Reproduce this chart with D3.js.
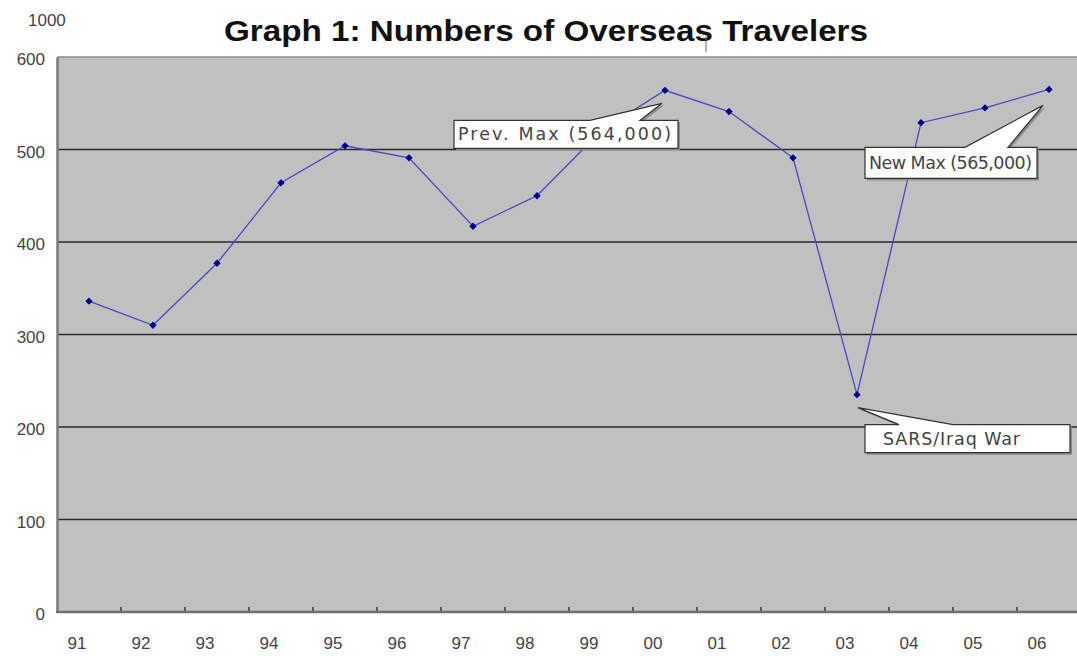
<!DOCTYPE html>
<html>
<head>
<meta charset="utf-8">
<script src="https://cdn.jsdelivr.net/npm/d3@7"></script>
<style>
  html, body { margin: 0; padding: 0; background: #fff; }
  svg { display: block; }
</style>
</head>
<body>
<script>
// ---- data ----
const years = ["91","92","93","94","95","96","97","98","99","00","01","02","03","04","05","06"];
const travelers = [336, 310, 377, 464, 504, 491, 417, 450, 520, 564, 541, 491, 235, 529, 545, 565];
const yTicks = [0, 100, 200, 300, 400, 500, 600];
const titleText = "Graph 1: Numbers of Overseas Travelers";
const strayLabel = "1000";
const calloutIndex = [9, 15, 12];
const calloutText = ["Prev. Max (564,000)", "New Max (565,000)", "SARS/Iraq War"];

// ---- layout (styles/positions kept separate from data) ----
const W = 1077, H = 656;
const plot = { left: 57, top: 57, bottom: 612, right: 1081 };
// callout layout: box offset from point, box size, wedge base (relative to box left), tip offset, text length
const calloutLayout = [
  { dx: -211, dy: 30, w: 224, h: 28, b0: 136, b1: 186, tx: -3, ty: 13, tl: 213 },
  { dx: -184, dy: 58, w: 172, h: 31, b0: 100, b1: 143, tx: -6, ty: 16, tl: 163 },
  { dx: 8,    dy: 30, w: 205, h: 28, b0: 34,  b1: 88,  tx: 1,  ty: 13, tl: 137, pad: 18 }
];

const svg = d3.select("body").append("svg").attr("width", W).attr("height", H);

const x = d3.scaleBand().domain(years).range([plot.left, plot.right]).paddingInner(0).paddingOuter(0);
const y = d3.scaleLinear().domain([0, 600]).range([plot.bottom, plot.top]);
const cx = d => x(d) + x.bandwidth() / 2;

// plot background
svg.append("rect")
  .attr("x", plot.left).attr("y", plot.top)
  .attr("width", W - plot.left).attr("height", plot.bottom - plot.top)
  .attr("fill", "#c0c0c0");

// gridlines
svg.append("g").selectAll("line")
  .data(yTicks.filter(t => t > 0 && t < 600))
  .join("line")
  .attr("x1", plot.left).attr("x2", W)
  .attr("y1", d => y(d)).attr("y2", d => y(d))
  .attr("stroke", "#2a2a2a").attr("stroke-width", 1.4);

// top border
svg.append("line")
  .attr("x1", plot.left).attr("x2", W)
  .attr("y1", y(600)).attr("y2", y(600))
  .attr("stroke", "#8a8a8a").attr("stroke-width", 1.5);

// y axis
const yAxis = d3.axisLeft(y).tickValues(yTicks).tickSize(0).tickPadding(12);
const gy = svg.append("g").attr("transform", `translate(${plot.left},0)`).call(yAxis);
gy.select(".domain").attr("stroke", "#7a7a7a").attr("stroke-width", 2.5);
gy.selectAll("text")
  .attr("font-family", "'Liberation Sans', Arial, sans-serif")
  .attr("font-size", 17).attr("fill", "#444").attr("dy", "0.45em");

// x axis (ticks between categories, inward)
const tickPos = years.slice(1).map(d => x(d));
svg.append("g").selectAll("line")
  .data(tickPos).join("line")
  .attr("x1", d => d).attr("x2", d => d)
  .attr("y1", plot.bottom - 5).attr("y2", plot.bottom)
  .attr("stroke", "#333").attr("stroke-width", 1.5);
svg.append("line")
  .attr("x1", plot.left - 1).attr("x2", W)
  .attr("y1", plot.bottom).attr("y2", plot.bottom)
  .attr("stroke", "#6e6e6e").attr("stroke-width", 2.5);

svg.append("g").selectAll("text")
  .data(years).join("text")
  .attr("x", d => cx(d) - 12)
  .attr("y", plot.bottom + 37)
  .attr("text-anchor", "middle")
  .attr("font-family", "'Liberation Sans', Arial, sans-serif")
  .attr("font-size", 17).attr("fill", "#444")
  .text(d => d);

// stray "1000" label
svg.append("text")
  .attr("x", 28).attr("y", 26)
  .attr("font-family", "'Liberation Sans', Arial, sans-serif")
  .attr("font-size", 17).attr("fill", "#444")
  .text(strayLabel);

// title
svg.append("text")
  .attr("x", 224).attr("y", 41)
  .attr("font-family", "'Liberation Sans', Arial, sans-serif")
  .attr("font-weight", "bold")
  .attr("font-size", 29).attr("fill", "#111")
  .attr("textLength", 644).attr("lengthAdjust", "spacingAndGlyphs")
  .text(titleText);
svg.append("line")
  .attr("x1", 706).attr("x2", 706).attr("y1", 36).attr("y2", 52)
  .attr("stroke", "#666").attr("stroke-width", 1);

// series line
const line = d3.line().x((d, i) => cx(years[i])).y(d => y(d));
svg.append("path")
  .datum(travelers)
  .attr("d", line)
  .attr("fill", "none")
  .attr("stroke", "#4848c4").attr("stroke-width", 1.3);

// markers
svg.append("g").selectAll("path")
  .data(travelers).join("path")
  .attr("transform", (d, i) => `translate(${cx(years[i])},${y(d)})`)
  .attr("d", d3.symbol(d3.symbolDiamond2, 34)())
  .attr("fill", "#00008b");

// callouts
calloutIndex.forEach((idx, k) => {
  const L = calloutLayout[k];
  const px = cx(years[idx]), py = y(travelers[idx]);
  const bx = px + L.dx, by = py + L.dy;
  const tipX = px + L.tx, tipY = py + L.ty;
  const path = `M${bx},${by} L${bx + L.b0},${by} L${tipX},${tipY} L${bx + L.b1},${by} L${bx + L.w},${by} L${bx + L.w},${by + L.h} L${bx},${by + L.h} Z`;
  const g = svg.append("g");
  g.append("path").attr("d", path)
    .attr("transform", "translate(2,2)")
    .attr("fill", "#8c8c8c");
  g.append("path").attr("d", path)
    .attr("fill", "#fff").attr("stroke", "#333").attr("stroke-width", 1.2);
  g.append("text")
    .attr("x", bx + (L.pad || 4)).attr("y", by + L.h / 2 + 6)
    .attr("font-family", "'DejaVu Sans', sans-serif")
    .attr("font-size", 17.5).attr("fill", "#444")
    .attr("textLength", L.tl).attr("lengthAdjust", "spacing")
    .text(calloutText[k]);
});
</script>
</body>
</html>
